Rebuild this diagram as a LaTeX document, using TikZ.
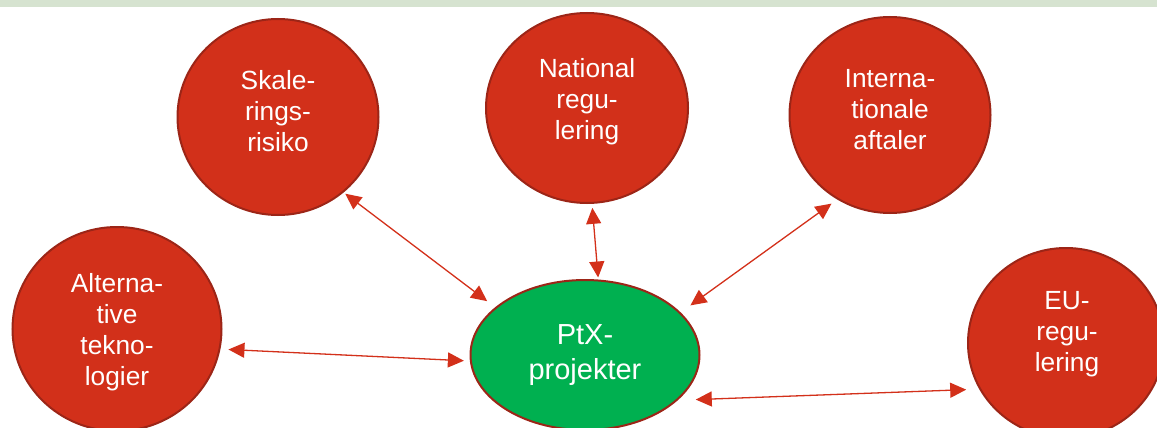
\documentclass[tikz,border=0pt]{standalone}
\usepackage{fontspec}
\setmainfont{Liberation Sans}
\usetikzlibrary{arrows.meta,shapes.geometric}
\definecolor{cred}{HTML}{D2301A}
\definecolor{cedge}{HTML}{9C2517}
\definecolor{cgreen}{HTML}{00B050}
\definecolor{cstrip}{HTML}{D6E3D0}
\definecolor{carrow}{HTML}{D3301A}
\tikzset{
  bubble/.style={ellipse, fill=cred, draw=cedge, line width=2pt, inner sep=0pt},
  bubbletext/.style={text=white, align=center, font=\fontsize{26.3}{31}\selectfont},
  hub/.style={ellipse, fill=cgreen, draw=cedge, line width=2pt, text=white, align=center, font=\fontsize{29}{35}\selectfont},
  link/.style={draw=carrow, line width=1.3pt, {Triangle[length=16pt,width=15pt]}-{Triangle[length=16pt,width=15pt]}},
}
\begin{document}
\begin{tikzpicture}[x=1pt,y=-1pt]
\useasboundingbox (0,0) rectangle (1157,428);
\clip (0,0) rectangle (1157,428);
\fill[cstrip] (0,0) rectangle (1157,7);
\node[bubble, minimum width=201pt, minimum height=196pt,
  label={[bubbletext, yshift=6pt]center:Skale-\\rings-\\risiko}] (ska) at (278,117) {};
\node[bubble, minimum width=202pt, minimum height=190pt,
  label={[bubbletext, yshift=6pt]center:National\\regu-\\lering}] (nat) at (587,108) {};
\node[bubble, minimum width=201pt, minimum height=196pt,
  label={[bubbletext, yshift=5pt]center:Interna-\\tionale\\aftaler}] (int) at (890,115) {};
\node[bubble, minimum width=209pt, minimum height=204pt,
  label={[bubbletext, yshift=-3pt]center:Alterna-\\tive\\tekno-\\logier}] (alt) at (117,329) {};
\node[bubble, minimum width=196pt, minimum height=190pt,
  label={[bubbletext, yshift=9pt, xshift=1pt]center:EU-\\regu-\\lering}] (eu) at (1066,343) {};
\node[hub, minimum width=229pt, minimum height=150pt] (ptx) at (585,355) {PtX-\\projekter};
\draw[link, shorten <=2pt, shorten >=10pt] (ska.-49) -- (ptx.152);
\draw[link, shorten <=4pt, shorten >=2pt] (nat.-87) -- (ptx.80);
\draw[link, shorten <=7pt, shorten >=12pt] (int.-122) -- (ptx.24);
\draw[link, shorten <=8pt, shorten >=6pt] (alt.-11) -- (ptx.183);
\draw[link, shorten <=18pt, shorten >=13pt] (ptx.-26) -- (eu.208);
\end{tikzpicture}
\end{document}
